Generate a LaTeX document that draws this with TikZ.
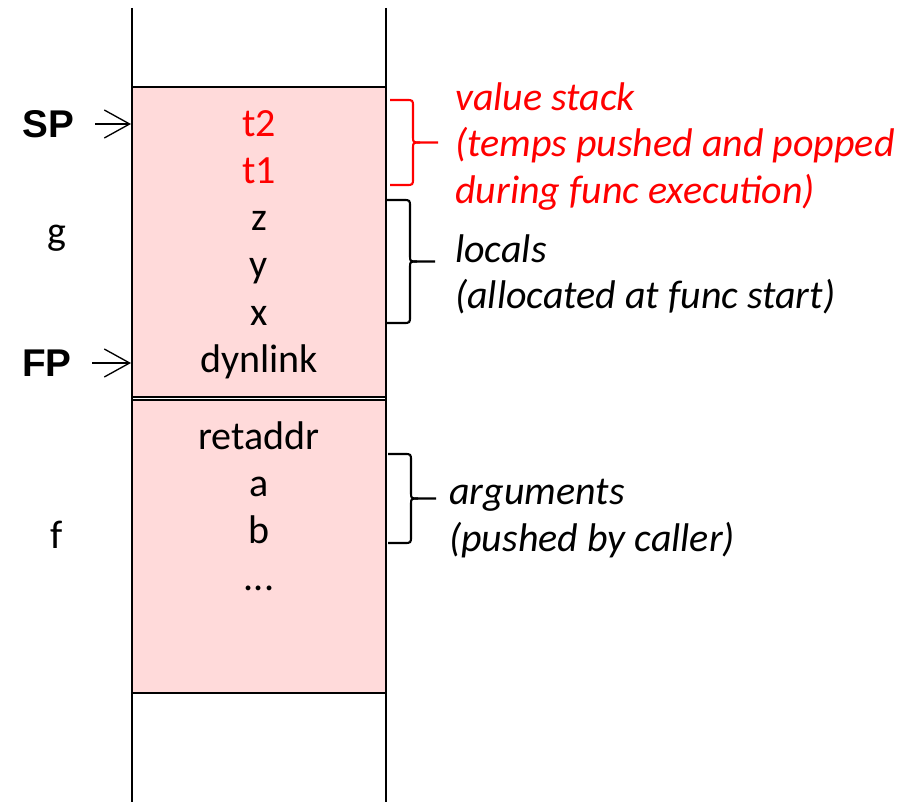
\documentclass[tikz,border=0pt]{standalone}
\usepackage{fontspec}
\usetikzlibrary{arrows.meta}
\setmainfont{Carlito}
\newfontfamily\arialfont{Liberation Sans}
\definecolor{stackpink}{RGB}{255,218,218}
\definecolor{vred}{RGB}{255,0,0}
\newcommand{\mybrace}[4]{% x0, top, bottom, colour
  \draw[bracepath, draw=#4]
    (#1,#2) -- ({#1+16},#2) .. controls ({#1+23},#2) .. ({#1+23},{#2+7})
    -- ({#1+23},{(#2+#3)/2-6}) .. controls ({#1+23},{(#2+#3)/2}) .. ({#1+30},{(#2+#3)/2})
    -- ({#1+48},{(#2+#3)/2});
  \draw[bracepath, draw=#4]
    (#1,#3) -- ({#1+16},#3) .. controls ({#1+23},#3) .. ({#1+23},{#3-7})
    -- ({#1+23},{(#2+#3)/2+6}) .. controls ({#1+23},{(#2+#3)/2}) .. ({#1+30},{(#2+#3)/2});
}
\begin{document}
\begin{tikzpicture}[x=0.75pt,y=-0.75pt,
  cell/.style={font=\fontsize{30}{36}\selectfont, inner sep=0pt, anchor=base},
  side/.style={font=\fontsize{30}{36}\selectfont, inner sep=0pt, anchor=center},
  reg/.style={font=\arialfont\bfseries\fontsize{29}{34}\selectfont, inner sep=0pt, anchor=base west},
  lab/.style={font=\itshape\fontsize{30}{35}\selectfont, inner sep=0pt, anchor=north west, align=left},
  frame/.style={draw=black, line width=1.5pt, fill=stackpink},
  wall/.style={draw=black, line width=1.2pt},
  ptr/.style={draw=black, line width=1pt, -{Straight Barb[length=19pt,width=21pt]}},
  bracepath/.style={line width=1.6pt, line join=round}]
\useasboundingbox (0,0) rectangle (907,802);
% frames
\path[frame] (132,87) rectangle (386,397);
\path[frame] (132,400) rectangle (386,693);
% walls
\draw[wall] (132,8) -- (132,802);
\draw[wall] (386,8) -- (386,802);
% cells
\node[cell, text=vred] (t2) at (259,137) {t2};
\node[cell, text=vred] (t1) at (259,184) {t1};
\node[cell] (z) at (259,231) {z};
\node[cell] (y) at (259,278) {y};
\node[cell] (x) at (259,326) {x};
\node[cell] (dyn) at (259,373) {dynlink};
\node[cell] (ret) at (259,449) {retaddr};
\node[cell] (a) at (259,496) {a};
\node[cell] (b) at (259,543) {b};
\node[cell] (dots) at (259,590) {...};
% left labels
\node[reg] (SP) at (22,138) {SP};
\node[reg] (FP) at (22,377) {FP};
\node[side] (g) at (57,238) {g};
\node[side] (f) at (57,535) {f};
\coordinate (spa) at (95,124);
\coordinate (spb) at (131,124);
\coordinate (fpa) at (92,363);
\coordinate (fpb) at (131,363);
\draw[ptr] (spa) -- (spb);
\draw[ptr] (fpa) -- (fpb);
% braces
\mybrace{390}{100}{185}{vred}
\mybrace{387}{200}{323}{black}
\mybrace{388}{454}{543}{black}
% right labels
\node[lab, text=vred] (vs) at (455,82) {value stack\\(temps pushed and popped\\during func execution)};
\node[lab] (loc) at (455,234) {locals\\(allocated at func start)};
\node[lab] (arg) at (449,479) {arguments\\(pushed by caller)};
\end{tikzpicture}
\end{document}
